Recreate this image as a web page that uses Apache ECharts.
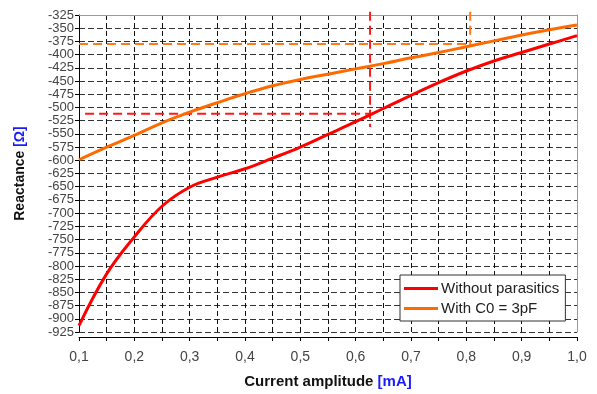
<!DOCTYPE html>
<html>
<head>
<meta charset="utf-8">
<script src="https://cdn.jsdelivr.net/npm/echarts@6/dist/echarts.min.js"></script>
<style>
html,body{margin:0;padding:0;background:#fff;}
#main{width:597px;height:394px;}
</style>
</head>
<body>
<div id="main"></div>
<script>
// 电流幅值 (mA)
var current = [0.1,0.15,0.2,0.25,0.3,0.35,0.4,0.45,0.5,0.55,0.6,0.65,0.7,0.75,0.8,0.85,0.9,0.95,1.0];
// 无寄生参数
var noParasitics = [-913,-815,-745,-687,-651,-632,-616,-596,-575,-551,-527,-502,-477,-453,-431,-412,-396,-380,-364];
// C0 = 3pF
var withC0 = [-599,-575,-553,-529,-509,-491,-474,-459,-447,-437,-427,-417,-406,-396,-385,-374,-363,-353,-344];
// 辅助虚线
var redGuideH = [[0.111,-512],[0.626,-512]];
var redGuideV = [[0.626,-319],[0.626,-537]];
var orangeGuideH = [[0.1,-380],[0.807,-380]];
var orangeGuideV = [[0.807,-319],[0.807,-382]];

var yTicks = {min:-925, max:-325, step:25};
var xTicks = {min:0.1, max:1.0, step:0.05};

function pairs(xs, ys){
	var out = [];
	for(var i = 0;i< xs.length;i++){
		out.push([xs[i], ys[i]]);
	}
	return out;
}

var chart = echarts.init(document.getElementById('main'));
var font = 'Liberation Sans, Arial, sans-serif';

function guide(data, color){
	return {
		type:'line',
		data:data,
		symbol:'none',
		clip:false,
		silent:true,
		lineStyle:{color:color, width:2, type:[9,5]},
		z:3
	};
}

option = {
	animation:false,
	backgroundColor:'#fff',
	grid:{left:79, right:20, top:15, bottom:59},
	legend:{
		orient:'vertical',
		left:400, top:275,
		padding:[6,6,5,4],
		itemGap:5,
		itemWidth:34, itemHeight:3,
		icon:'rect',
		backgroundColor:'#fff',
		borderColor:'#333', borderWidth:1, borderRadius:0,
		textStyle:{fontFamily:font, fontSize:15, color:'#222', padding:[0,0,0,-2]},
		data:['Without parasitics','With C0 = 3pF']
	},
	xAxis:[{
		type:'value',
		min:xTicks.min, max:xTicks.max, interval:xTicks.step,
		offset:5,
		name:'{b|Current amplitude }{u|[mA]}',
		nameLocation:'middle',
		nameGap:37,
		nameTextStyle:{rich:{
			b:{fontFamily:font, fontSize:15, fontWeight:'bold', color:'#111'},
			u:{fontFamily:font, fontSize:15, fontWeight:'bold', color:'#1a1aff'}
		}},
		axisLine:{lineStyle:{color:'#000', width:1}},
		axisTick:{show:true, length:4, lineStyle:{color:'#000'}},
		axisLabel:{
			margin:13, color:'#444', fontFamily:font, fontSize:14,
			formatter:function(v){
				return Math.round(v*100) % 10 === 0 ? v.toFixed(1).replace('.', ',') : '';
			}
		},
		splitLine:{show:true, lineStyle:{color:'#111', width:1, type:[5,3]}}
	},{
		type:'value', position:'top',
		min:xTicks.min, max:xTicks.max,
		axisLine:{show:true, lineStyle:{color:'#999'}},
		axisTick:{show:false}, axisLabel:{show:false}, splitLine:{show:false}
	}],
	yAxis:[{
		type:'value',
		min:yTicks.min, max:yTicks.max, interval:yTicks.step,
		name:'{b|Reactance }{u|[Ω]}',
		nameLocation:'middle',
		nameGap:52,
		nameRotate:90,
		nameTextStyle:{rich:{
			b:{fontFamily:font, fontSize:14, fontWeight:'bold', color:'#111'},
			u:{fontFamily:font, fontSize:14, fontWeight:'bold', color:'#1a1aff'}
		}},
		axisLine:{show:true, lineStyle:{color:'#000', width:1}},
		axisTick:{show:true, length:4, lineStyle:{color:'#000'}},
		axisLabel:{margin:5, color:'#444', fontFamily:font, fontSize:13},
		splitLine:{show:true, lineStyle:{color:'#333', width:1, type:[6,3]}}
	},{
		type:'value', position:'right',
		min:yTicks.min, max:yTicks.max,
		axisLine:{show:true, lineStyle:{color:'#999'}},
		axisTick:{show:false}, axisLabel:{show:false}, splitLine:{show:false}
	}],
	series:[
		guide(redGuideH, '#ff1a1a'),
		guide(redGuideV, '#ff1a1a'),
		guide(orangeGuideH, '#ff7a1a'),
		guide(orangeGuideV, '#ff7a1a'),
		{
			name:'Without parasitics',
			type:'line',
			data:pairs(current, noParasitics),
			smooth:0.4,
			symbol:'none',
			lineStyle:{color:'#ff0000', width:3},
			itemStyle:{color:'#ff0000'},
			z:4
		},
		{
			name:'With C0 = 3pF',
			type:'line',
			data:pairs(current, withC0),
			smooth:0.4,
			symbol:'none',
			lineStyle:{color:'#ff6a00', width:3},
			itemStyle:{color:'#ff6a00'},
			z:4
		}
	]
};
chart.setOption(option);
</script>
</body>
</html>
